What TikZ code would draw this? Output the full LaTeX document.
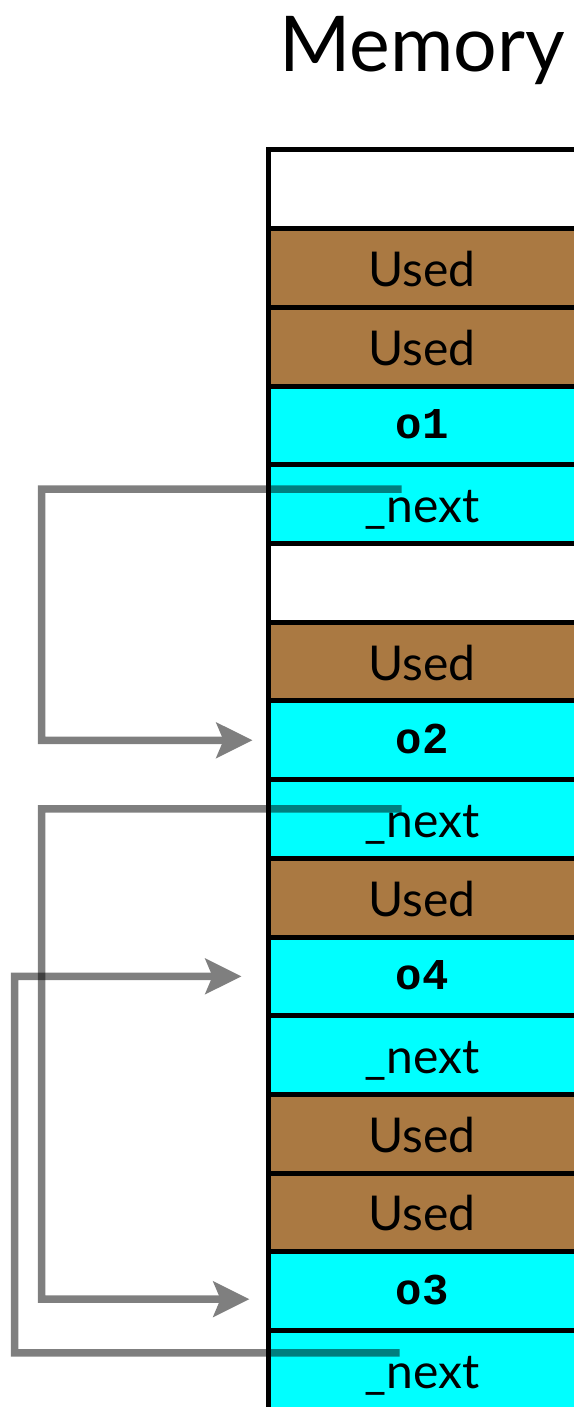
\documentclass[tikz,border=0pt]{standalone}
\usepackage{fontspec}
\setmainfont{Lato}
\newfontfamily\codefont{Liberation Mono}
\usetikzlibrary{arrows.meta}
\definecolor{usedbrown}{RGB}{170,121,66}
\definecolor{objcyan}{RGB}{0,255,255}
\begin{document}
\begin{tikzpicture}[x=1pt,y=-1pt,
  cell/.style={draw=black, line width=5pt, minimum width=308pt,
    minimum height=78.7pt, inner sep=0pt, anchor=center},
  freecell/.style={cell, fill=white},
  usedcell/.style={cell, fill=usedbrown,
    font=\fontsize{48}{48}\selectfont, text height=37pt, text depth=0pt},
  nextcell/.style={cell, fill=objcyan,
    font=\fontsize{48}{48}\selectfont, text height=37pt, text depth=0pt},
  objcell/.style={cell, fill=objcyan,
    font=\codefont\bfseries\fontsize{44}{44}\selectfont, text height=27pt, text depth=0pt},
  link/.style={line width=7.5pt, draw=black, line join=miter, line cap=butt,
    -{Stealth[length=36pt,width=35pt,inset=7pt]}}
]
\useasboundingbox (0,0) rectangle (573,1407);
\fill[white] (0,0) rectangle (573,1407);

% title
\node[anchor=base east, inner sep=0pt, font=\fontsize{77}{77}\selectfont] (title) at (565,72) {Memory};

% memory cells, top to bottom
\node[freecell] (r0)  at (422,189.35)  {};
\node[usedcell] (r1)  at (422,268.05)  {Used};
\node[usedcell] (r2)  at (422,346.75)  {Used};
\node[objcell]  (r3)  at (422,425.45)  {o1};
\node[nextcell] (r4)  at (422,504.15)  {\_next};
\node[freecell] (r5)  at (422,582.85)  {};
\node[usedcell] (r6)  at (422,661.55)  {Used};
\node[objcell]  (r7)  at (422,740.25)  {o2};
\node[nextcell] (r8)  at (422,818.95)  {\_next};
\node[usedcell] (r9)  at (422,897.65)  {Used};
\node[objcell]  (r10) at (422,976.35)  {o4};
\node[nextcell] (r11) at (422,1055.05) {\_next};
\node[usedcell] (r12) at (422,1133.75) {Used};
\node[usedcell] (r13) at (422,1212.45) {Used};
\node[objcell]  (r14) at (422,1291.15) {o3};
\node[nextcell] (r15) at (422,1369.85) {\_next};

% pointer ends
\coordinate (a1s) at ([shift={(136,-15)}]r4.west);
\coordinate (a1t) at ([shift={(-13,0)}]r7.west);
\coordinate (a2s) at ([shift={(136,-10)}]r8.west);
\coordinate (a2t) at ([shift={(-16,8)}]r14.west);
\coordinate (a3s) at ([shift={(134,-17)}]r15.west);
\coordinate (a3t) at ([shift={(-24,0)}]r10.west);

% _next pointers, half transparent
\begin{scope}[transparency group, opacity=0.5]
  \draw[link] (a1s) -- ++(-360,0) |- (a1t);
\end{scope}
\begin{scope}[transparency group, opacity=0.5]
  \draw[link] (a2s) -- ++(-360,0) |- (a2t);
\end{scope}
\begin{scope}[transparency group, opacity=0.5]
  \draw[link] (a3s) -- ++(-385,0) |- (a3t);
\end{scope}
\end{tikzpicture}
\end{document}
